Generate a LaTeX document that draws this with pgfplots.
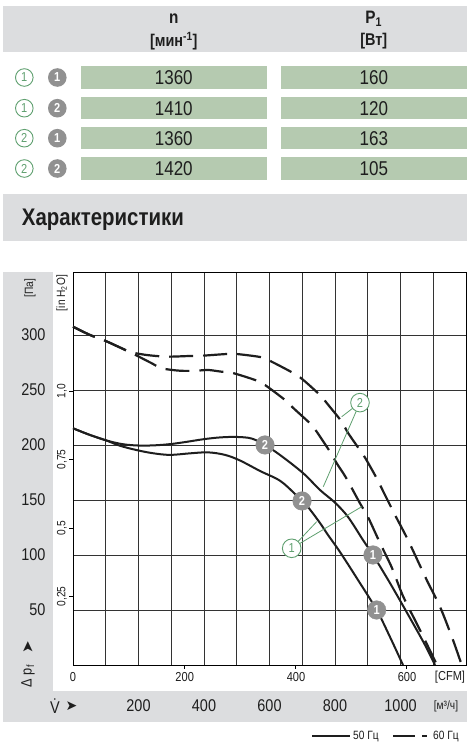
\documentclass[border=0pt]{standalone}
\usepackage{pgfplots}
\pgfplotsset{compat=1.18}
\usepackage{fontspec}
\setmainfont{Liberation Sans}
\newfontfamily\cf[FakeStretch=0.85]{Liberation Sans}
\newfontfamily\dv{DejaVu Sans}
\definecolor{bandgray}{RGB}{220,221,223}
\definecolor{cellgreen}{RGB}{181,202,176}
\definecolor{markgreen}{RGB}{96,160,112}
\definecolor{markgray}{RGB}{145,145,145}
\definecolor{txt}{RGB}{30,30,30}
\newcommand{\fs}[1]{\fontsize{#1}{#1}\selectfont}
\begin{document}
\begin{tikzpicture}
\begin{scope}[x=1pt,y=-1pt]
\useasboundingbox (0,0) rectangle (476,755);
\fill[white] (0,0) rectangle (476,755);
% table header
\fill[bandgray] (3,6) rectangle (467,52);
\node[text=txt,font=\cf\bfseries\fs{18}] at (173.8,19) {n};
\node[text=txt,font=\cf\bfseries\fs{17}] at (173.8,41) {[мин\textsuperscript{-1}]};
\node[text=txt,font=\cf\bfseries\fs{18}] at (373.8,19) {P\textsubscript{1}};
\node[text=txt,font=\cf\bfseries\fs{17}] at (373.8,41) {[Вт]};
% rows
\foreach \yc/\ya/\yb/\g/\k/\n/\p in {77.5/66/89/1/1/1360/160, 108.2/97/119.3/1/2/1410/120, 138.2/127/149.3/2/1/1360/163, 168.5/157/180/2/2/1420/105}{
  \fill[cellgreen] (81,\ya) rectangle (266.7,\yb);
  \fill[cellgreen] (281,\ya) rectangle (466.7,\yb);
  \node[text=txt,font=\cf\fs{20}] at (173.8,\yc) {\n};
  \node[text=txt,font=\cf\fs{20}] at (373.8,\yc) {\p};
  \draw[markgreen,line width=0.9pt,fill=white] (24.3,\yc) circle (8.8);
  \node[text=markgreen,font=\cf\fs{13}] at (24.3,\yc) {\g};
  \fill[markgray] (57.3,\yc) circle (9.3);
  \node[text=white,font=\cf\bfseries\fs{13}] at (57.3,\yc) {\k};
}
% heading band
\fill[bandgray] (3,194) rectangle (467,240.7);
\node[anchor=base west,text=txt,font=\cf\bfseries\fs{24},inner sep=0pt] at (21.7,225) {Характеристики};
% L band
\fill[bandgray] (3,271.7) rectangle (53,690.7);
\fill[bandgray] (3,690.7) rectangle (466.7,721.7);
% Pa labels
\foreach \v/\yy in {300/335,250/389.5,200/444.5,150/500,100/555,50/610}{
  \node[anchor=east,text=txt,font=\cf\fs{17}] at (49,\yy) {\v};
}
\node[rotate=90,text=txt,font=\cf\fs{12}] at (30,288) {[Па]};
\node[rotate=90,text=txt,font=\cf\fs{12}] at (62,293) {[in H\textsubscript{2}O]};
\foreach \v/\yy in {{1,0}/391,{0,75}/459.5,{0,5}/528,{0,25}/596.5}{
  \node[rotate=90,text=txt,font=\cf\fs{12}] at (62,\yy) {\v};
}
\node[rotate=90,text=txt,font=\cf\fs{15}] at (28,676) {Δ p\textsubscript{f}};
\node[rotate=90,text=txt,font=\dv\fs{15}] at (28,647) {➤};
% CFM labels
\foreach \v/\xx in {0/73,200/184.7,400/296,600/407}{
  \node[text=txt,font=\cf\fs{13}] at (\xx,677) {\v};
}
\node[text=txt,font=\cf\fs{13}] at (450,677) {[CFM]};
% m3/h labels
\foreach \v/\xx in {200/138.5,400/204,600/269.5,800/335,1000/400.5}{
  \node[text=txt,font=\cf\fs{17}] at (\xx,706) {\v};
}
\node[text=txt,font=\cf\fs{12}] at (446,706) {[м³/ч]};
\node[text=txt,font=\cf\fs{17},inner sep=0pt] at (55,706) {\.{V}};
\node[text=txt,font=\dv\fs{14},inner sep=0pt] at (71.5,706) {➤};
% legend
\draw[txt,line width=1.5pt] (312,736) -- (350,736);
\node[anchor=west,text=txt,font=\cf\fs{12},inner sep=1pt] at (352,736.5) {50 Гц};
\draw[txt,line width=1.5pt,dash pattern=on 22pt off 7pt] (393,736) -- (427,736);
\node[anchor=west,text=txt,font=\cf\fs{12},inner sep=1pt] at (432,736.5) {60 Гц};
\end{scope}
\begin{axis}[at={(73pt,-665pt)}, anchor=south west, scale only axis,
  width=393pt, height=392.3pt,
  xmin=0, xmax=1200, ymin=0, ymax=356.6,
  xtick={100,200,...,1100}, ytick={50,100,...,300},
  xticklabels={}, yticklabels={},
  grid=major, major grid style={black!80, line width=0.9pt},
  axis line style={black, line width=1pt},
  major tick length=0pt, tick pos=left,
  extra x ticks={339.8,679.6,1019.4}, extra x tick labels={},
  extra x tick style={grid=none, tick align=outside, major tick length=4pt, tick style={black,line width=0.8pt}},
  extra y ticks={62.27,124.5,186.8,249.1}, extra y tick labels={},
  extra y tick style={grid=none, tick align=outside, major tick length=4pt, tick style={black,line width=0.8pt}},
  clip=false]
% 50 Hz, curve 2 (upper solid)
\addplot[txt, line width=2pt, smooth, tension=0.55] coordinates {
(0,215.2) (50,209.3) (100,204.3) (150,200.8) (200,199.5) (250,199.7) (300,200.9) (350,203.0) (400,205.3) (450,206.9) (500,207.3) (545,205.9) (586.3,200.0) (632.1,190.9) (702.3,174.5) (754.2,159.1) (800.0,147.6) (840,134.5) (885.5,113.6) (916.0,100.0) (967.9,74.5) (1029.0,42.7) (1074.8,18.2) (1105.3,0)};
% 50 Hz, curve 1 (lower solid)
\addplot[txt, line width=2pt, smooth, tension=0.55] coordinates {
(0,215.2) (50,209.3) (100,204.3) (143.5,199.3) (195.4,195.3) (244.3,192.5) (296.2,191.0) (357.2,192.4) (412.2,193.3) (464.1,191.0) (509.9,185.9) (570.9,176.4) (632.1,167.5) (677.9,155.5) (699.3,149.1) (717.6,143.6) (754.2,129.1) (778.6,118.2) (815.3,102.7) (870.2,77.3) (927.3,50) (967.9,25.5) (1007.6,0)};
% 60 Hz, curve 2 (upper dashed)
\addplot[txt, line width=2.2pt, dash pattern=on 24pt off 10pt, smooth, tension=0.5] coordinates {
(0,307.5) (51.9,300) (92.5,295.5) (148.7,287.9) (174.0,284.5) (225.0,281.8) (286.1,280.3) (357.2,280.9) (396.9,281.2) (469.3,282.7) (499.8,282.7) (576.2,279.7) (606.7,275.7) (671.7,265.5) (703.2,259.1) (759.4,243.9) (779.5,236.4) (820.5,221.2) (840.6,210.6) (886.4,190.9) (901.7,183.4) (927.3,169.7) (952.7,154.5) (983.2,136.4) (1022.9,113.6) (1080.0,77.3) (1120.6,53.0) (1160.3,22.7) (1186.9,0)};
% 60 Hz, curve 1 (lower dashed)
\addplot[txt, line width=2.2pt, dash pattern=on 24pt off 10pt, smooth, tension=0.5] coordinates {
(0,307.5) (51.9,300) (92.5,295.5) (148.7,287.9) (179.2,283.6) (240.3,274.3) (270.8,269.7) (326.7,267.5) (377.7,267.5) (412.2,268.2) (454.0,266.6) (484.6,265.7) (555.7,259.1) (586.3,254.5) (647.3,240.9) (672.7,233.6) (728.8,218.2) (744.1,212.1) (784.7,193.9) (805.2,183.4) (825.3,174.3) (840.6,166.6) (876.3,147.0) (900.7,134.5) (937.4,110.9) (974.0,88.2) (1007.6,62.7) (1059.5,31.8) (1111.4,0)};
% green callouts
\addplot[markgreen, line width=0.8pt] coordinates {(820.5,225.7) (876.3,238.5) (764.3,162.1)};
\addplot[markgreen, line width=0.8pt] coordinates {(744.1,130.3) (667.8,106.1) (881.5,143.9)};
\addplot[only marks, mark=*, mark size=9.3pt, mark options={fill=white, draw=markgreen, line width=0.9pt},
  nodes near coords, point meta=explicit symbolic, nodes near coords align={center},
  every node near coord/.append style={anchor=center, text=markgreen, font=\cf\fs{13}}]
  coordinates {(876.3,238.5) [2] (667.8,106.1) [1]};
% gray operating points
\addplot[only marks, mark=*, mark size=9.3pt, mark options={fill=markgray, draw=markgray},
  nodes near coords, point meta=explicit symbolic, nodes near coords align={center},
  every node near coord/.append style={anchor=center, text=white, font=\cf\bfseries\fs{13}}]
  coordinates {(586.3,200.0) [2] (699.3,149.1) [2] (916.0,100.0) [1] (927.3,50) [1]};
\end{axis}
\end{tikzpicture}
\end{document}
